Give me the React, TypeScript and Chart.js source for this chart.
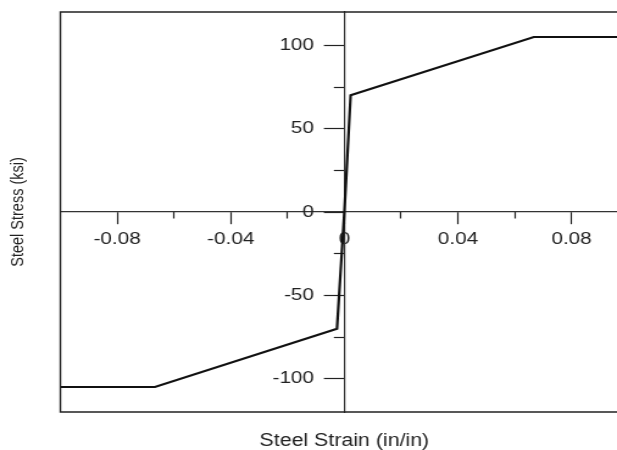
import React, { useEffect, useRef } from "react";
import { Chart, registerables } from "chart.js";

Chart.register(...registerables);

// ---- data ----
const strain = [-0.1, -0.0667, -0.0026, 0, 0.0022, 0.0667, 0.1];
const stress = [-105, -105, -70, 0, 70, 105, 105];

const xMajorTicks = [-0.08, -0.04, 0, 0.04, 0.08];
const xMajorLabels = ["-0.08", "-0.04", "0", "0.04", "0.08"];
const xMinorTicks = [-0.06, -0.02, 0.02, 0.06];

const yMajorTicks = [-100, -50, 0, 50, 100];
const yMajorLabels = ["-100", "-50", "0", "50", "100"];
const yMinorTicks = [-75, -25, 25, 75];

const xTitle = "Steel Strain (in/in)";
const yTitle = "Steel Stress (ksi)";

const X_MIN = -0.1;
const X_MAX = 0.096;
const Y_MIN = -120;
const Y_MAX = 120;

// canvas is drawn narrower and stretched horizontally to match reference
const PAGE_W = 617;
const PAGE_H = 450;
const CANVAS_W = 506;

const FONT = "'Liberation Sans', Arial, Helvetica, sans-serif";
const TEXT = "#222";

const Y_TICK_LEN = 16.4;
const Y_LABEL_PAD = 8.5;

const zeroPad = (s: any) => {
  s.paddingTop = 0;
  s.paddingBottom = 0;
  s.paddingLeft = 0;
  s.paddingRight = 0;
};

const framePlugin = {
  id: "frameAndTitles",
  beforeDraw(chart: any) {
    // shift y tick labels to the left of the tick marks (axis sits at x = 0)
    const s = chart.scales.y;
    const items = s.getLabelItems(chart.chartArea);
    for (const it of items) {
      if (!it.__shifted && it.options && it.options.translation) {
        it.options.translation[0] -= Y_TICK_LEN + Y_LABEL_PAD;
        it.__shifted = true;
      }
    }
  },
  afterDraw(chart: any) {
    const { ctx, chartArea } = chart;
    const { left, top, right, bottom } = chartArea;
    ctx.save();
    ctx.strokeStyle = "#222";
    ctx.lineWidth = 1.4;
    ctx.beginPath();
    ctx.moveTo(right + 2, top);
    ctx.lineTo(left, top);
    ctx.lineTo(left, bottom);
    ctx.lineTo(right + 2, bottom);
    ctx.stroke();

    ctx.fillStyle = TEXT;
    // x title
    const xs = chart.scales.x;
    const cx = (xs.getPixelForValue(-0.1) + xs.getPixelForValue(0.1)) / 2;
    ctx.font = `17.5px ${FONT}`;
    ctx.textAlign = "center";
    ctx.textBaseline = "alphabetic";
    ctx.fillText(xTitle, cx, 446);

    // y title
    ctx.translate(15.2, (top + bottom) / 2);
    ctx.rotate(-Math.PI / 2);
    ctx.font = `14.5px ${FONT}`;
    ctx.textAlign = "center";
    ctx.textBaseline = "middle";
    ctx.fillText(yTitle, 0, 0);
    ctx.restore();
  },
};

export default function App() {
  const ref = useRef<HTMLCanvasElement>(null);

  useEffect(() => {
    const canvas = ref.current!;
    const chart = new Chart(canvas, {
      type: "scatter",
      data: {
        datasets: [
          {
            data: strain.map((x, i) => ({ x, y: stress[i] })),
            showLine: true,
            borderColor: "#111",
            borderWidth: 2.2,
            pointRadius: 0,
            fill: false,
            tension: 0,
          },
        ],
      },
      options: {
        responsive: false,
        animation: false,
        devicePixelRatio: 1,
        events: [],
        layout: { padding: { left: 49.5, top: 12, right: 0, bottom: 38 } },
        plugins: { legend: { display: false }, tooltip: { enabled: false } },
        scales: {
          x: {
            type: "linear",
            axis: "x",
            min: X_MIN,
            max: X_MAX,
            position: { y: 0 },
            afterBuildTicks: (s: any) => {
              s.ticks = xMajorTicks.map((v) => ({ value: v }));
            },
            afterFit: zeroPad,
            grid: {
              drawOnChartArea: false,
              drawTicks: true,
              tickLength: 12,
              tickColor: "#222",
              tickWidth: 1.2,
            },
            border: { display: true, color: "#333", width: 1.2 },
            ticks: {
              autoSkip: false,
              maxRotation: 0,
              padding: 5.6,
              color: TEXT,
              font: { family: FONT, size: 17 },
              callback: (v: any) => {
                const i = xMajorTicks.findIndex((t) => Math.abs(t - v) < 1e-9);
                return i >= 0 ? xMajorLabels[i] : "";
              },
            },
          },
          xMinor: {
            type: "linear",
            axis: "x",
            min: X_MIN,
            max: X_MAX,
            position: { y: 0 },
            afterBuildTicks: (s: any) => {
              s.ticks = xMinorTicks.map((v) => ({ value: v }));
            },
            afterFit: zeroPad,
            grid: {
              drawOnChartArea: false,
              drawTicks: true,
              tickLength: 6.5,
              tickColor: "#222",
              tickWidth: 1.2,
            },
            border: { display: false },
            ticks: { display: false },
          },
          y: {
            type: "linear",
            axis: "y",
            min: Y_MIN,
            max: Y_MAX,
            position: { x: 0 },
            afterBuildTicks: (s: any) => {
              s.ticks = yMajorTicks.map((v) => ({ value: v }));
            },
            afterFit: zeroPad,
            grid: {
              drawOnChartArea: false,
              drawTicks: true,
              tickLength: Y_TICK_LEN,
              tickColor: "#222",
              tickWidth: 1.2,
            },
            border: { display: true, color: "#333", width: 1.2 },
            ticks: {
              autoSkip: false,
              padding: Y_LABEL_PAD,
              color: TEXT,
              font: { family: FONT, size: 17 },
              callback: (v: any) => {
                const i = yMajorTicks.findIndex((t) => Math.abs(t - v) < 1e-9);
                return i >= 0 ? yMajorLabels[i] : "";
              },
            },
          },
          yMinor: {
            type: "linear",
            axis: "y",
            min: Y_MIN,
            max: Y_MAX,
            position: { x: 0 },
            afterBuildTicks: (s: any) => {
              s.ticks = yMinorTicks.map((v) => ({ value: v }));
            },
            afterFit: zeroPad,
            grid: {
              drawOnChartArea: false,
              drawTicks: true,
              tickLength: 8.2,
              tickColor: "#222",
              tickWidth: 1.2,
            },
            border: { display: false },
            ticks: { display: false },
          },
        },
      } as any,
      plugins: [framePlugin],
    });
    return () => chart.destroy();
  }, []);

  return (
    <div
      style={{
        position: "fixed",
        left: 0,
        top: 0,
        width: PAGE_W,
        height: PAGE_H,
        overflow: "hidden",
        background: "#fff",
      }}
    >
      <canvas
        ref={ref}
        width={CANVAS_W}
        height={PAGE_H}
        style={{ width: `${PAGE_W}px`, height: `${PAGE_H}px`, display: "block" }}
      />
    </div>
  );
}
